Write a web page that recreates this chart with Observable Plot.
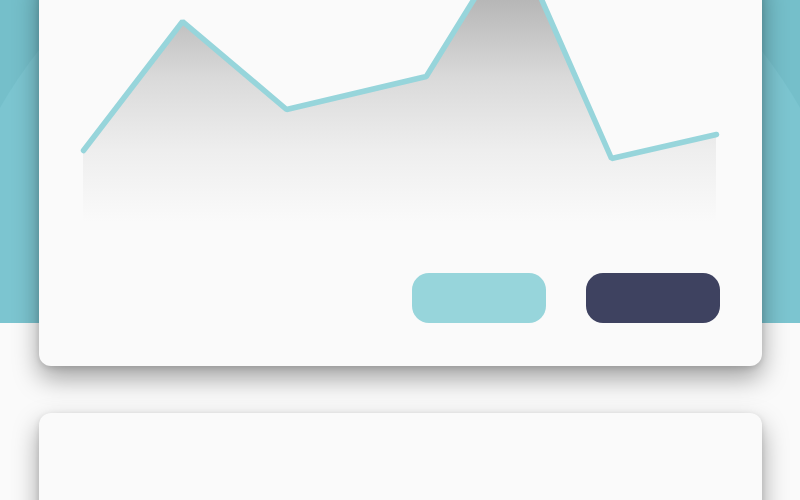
<!DOCTYPE html>
<html>
<head>
<meta charset="utf-8">
<script src="https://cdn.jsdelivr.net/npm/d3@7"></script>
<script src="https://cdn.jsdelivr.net/npm/@observablehq/plot@0.6"></script>
<style>
  :root {
    --teal: #7cc5d0;
    --line: #97d5db;
    --navy: #3e4260;
    --paper: #fafafa;
  }
  html, body { margin: 0; padding: 0; }
  body {
    width: 800px; height: 500px; overflow: hidden; position: relative;
    background: var(--paper);
    font-family: Roboto, "Noto Sans", sans-serif;
  }
  .band {
    position: absolute; left: 0; top: 0; width: 800px; height: 323px;
    background: #75bfca; overflow: hidden;
  }
  .band .disc {
    position: absolute; left: -60px; top: -125px; width: 920px; height: 920px;
    border-radius: 50%; background: var(--teal);
  }
  .card {
    position: absolute; left: 39px; width: 723px;
    background: var(--paper); border-radius: 12px;
    box-shadow: 0 12px 26px rgba(0, 0, 0, 0.36), 0 2px 6px rgba(0, 0, 0, 0.12);
  }
  #top { top: -30px; height: 396px; }
  #bottom { top: 413px; height: 200px; }
  #chart { position: absolute; left: 0; top: -80px; }
  .btn {
    position: absolute; top: 273px; width: 134px; height: 50px; border-radius: 17px;
  }
  .btn.light { left: 412px; background: var(--line); }
  .btn.dark { left: 586px; background: var(--navy); }
</style>
</head>
<body>
<div class="band"><div class="disc"></div></div>
<div class="card" id="top"></div>
<div class="card" id="bottom"></div>
<div id="chart"></div>
<div class="btn light"></div>
<div class="btn dark"></div>
<script>
// one point per period
const periods = [0, 10, 20.5, 34.6, 43.4, 53.3, 63.9];
const values = [72, 201, 113, 146, 287, 64, 88];

const rows = periods.map((p, i) => ({ period: p, value: values[i] }));

// gradient for the area, added as a function mark
function gradientDefs() {
  const defs = d3.create("svg:defs");
  const g = defs.append("linearGradient")
    .attr("id", "fade")
    .attr("x1", 0).attr("y1", 0).attr("x2", 0).attr("y2", 1);
  [
    [0, "#9c9c9c"],
    [0.22, "#b6b6b6"],
    [0.5, "#dadada"],
    [0.75, "#eeeeee"],
    [1, "#fafafa"],
  ].forEach(([o, c]) => g.append("stop").attr("offset", o).attr("stop-color", c));
  return defs.node();
}

const plot = Plot.plot({
  width: 800,
  height: 302,
  marginTop: 15,
  marginBottom: 0,
  marginLeft: 83,
  marginRight: 84,
  x: { domain: d3.extent(periods), axis: null },
  y: { domain: [0, d3.max(values)], axis: null },
  style: { background: "transparent", overflow: "visible" },
  marks: [
    gradientDefs,
    Plot.areaY(rows, { x: "period", y: "value", fill: "url(#fade)" }),
    Plot.line(rows, {
      x: "period",
      y: "value",
      stroke: "#97d5db",
      strokeWidth: 5.5,
      strokeLinecap: "round",
      strokeLinejoin: "miter",
    }),
  ],
});
document.getElementById("chart").append(plot);
</script>
</body>
</html>
